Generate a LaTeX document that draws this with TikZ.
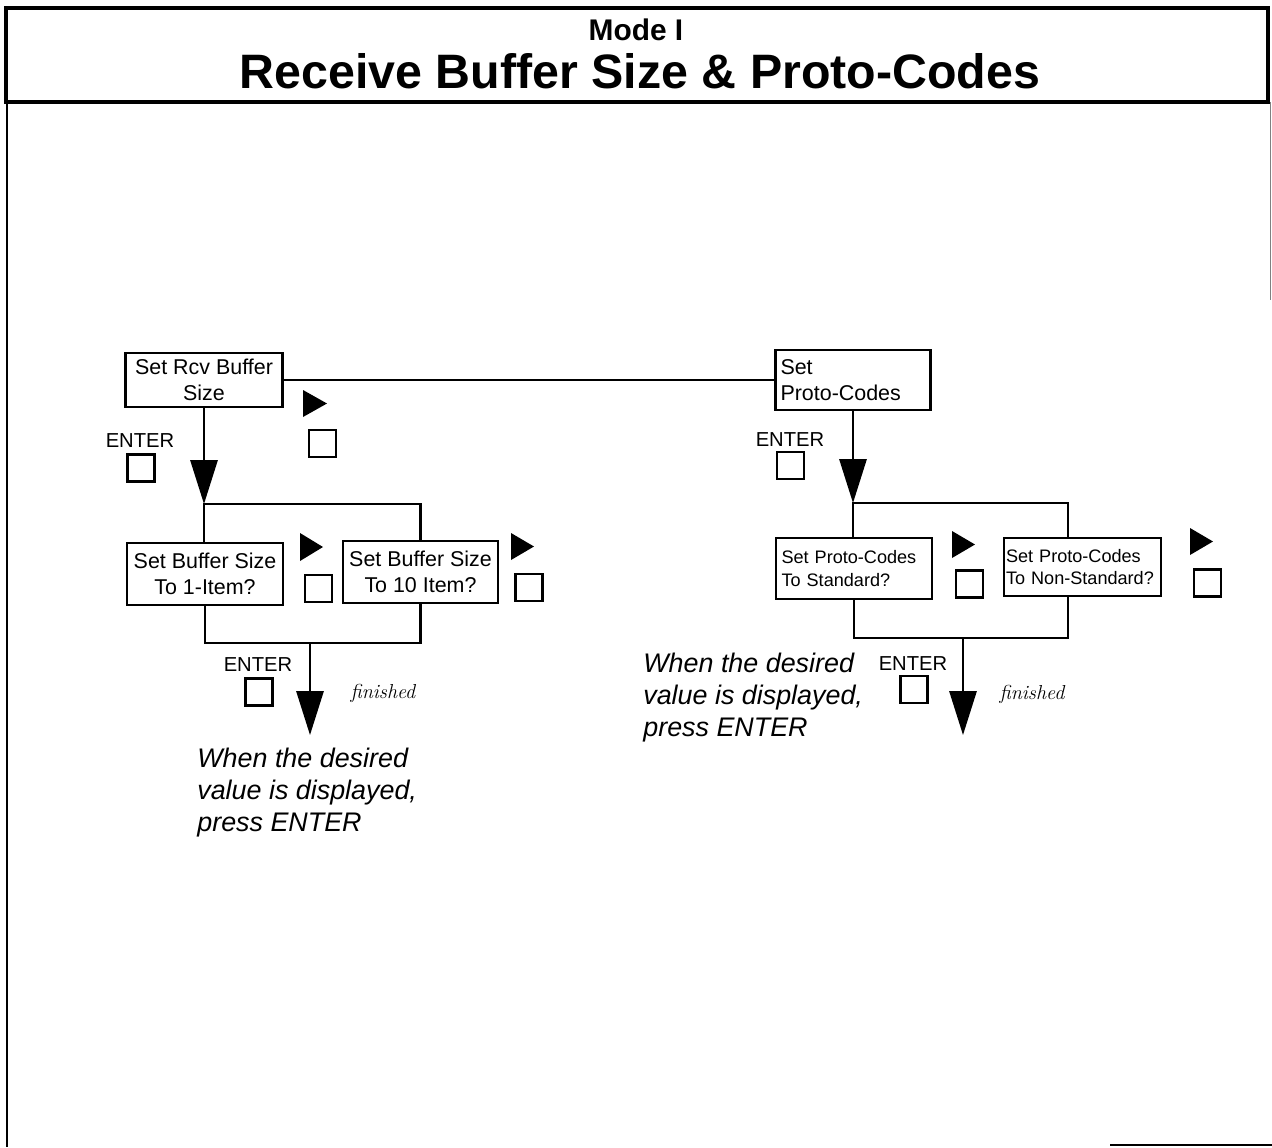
\documentclass[tikz,border=0pt]{standalone}
\usepackage{fontspec}
\newfontfamily\labelfont{Liberation Sans}
\usetikzlibrary{arrows.meta}
\tikzset{
  menubox/.style={draw, line width=1.4pt, inner sep=0pt, align=center,
    font=\labelfont\fontsize{12.2}{14.7}\selectfont},
  smallbox/.style={menubox, align=left,
    font=\labelfont\fontsize{10.3}{13}\selectfont},
  keybox/.style={draw, line width=1.3pt, minimum size=0.54cm, inner sep=0pt},
  flow/.style={line width=1.2pt},
  bigtip/.style={-{Triangle[width=15.5pt,length=25pt]}},
  enterlbl/.style={font=\labelfont\fontsize{11.5}{13}\selectfont, inner sep=0pt},
  donelbl/.style={font=\itshape\fontsize{11.5}{13}\selectfont, inner sep=0pt},
  note/.style={font=\labelfont\itshape\fontsize{15.3}{18.2}\selectfont,
    align=left, anchor=north west, inner sep=0pt}
}
\begin{document}
\begin{tikzpicture}[x=0.02cm,y=-0.02cm]
  \useasboundingbox (0,0) rectangle (1272,1147);
  % Frame and title
  \draw[line width=1.8pt] (6,8) rectangle (1268,102);
  \draw[line width=1.1pt] (7,102) -- (7,1147);
  \draw[line width=0.4pt, black!50] (1270,102) -- (1270,300);
  \draw[line width=1.1pt] (1110,1145) -- (1272,1145);
  \node[font=\labelfont\bfseries\fontsize{17}{20}\selectfont, anchor=base] (mode) at (636,40) {Mode I};
  \node[font=\labelfont\bfseries\fontsize{27.5}{32}\selectfont, anchor=base] (title) at (640,88) {Receive Buffer Size \& Proto-Codes};
  % Top level menu
  \node[menubox, minimum width=3.14cm, minimum height=1.08cm] (rcv) at (204,380) {Set Rcv Buffer\\Size};
  \node[menubox, align=left, text width=2.9cm, minimum width=3.1cm, minimum height=1.2cm] (proto) at (853,380) {Set\\Proto-Codes};
  \draw[flow] (rcv.east) -- (proto.west);
  \fill (303,390) -- ++(0,27) -- ++(24,-13.5) -- cycle;
  \node[keybox] (k0) at (322.5,443.5) {};
  % Buffer size branch
  \node[enterlbl] (e0) at (140,441) {ENTER};
  \node[keybox] (s0) at (141,468) {};
  \coordinate (fork1) at (204,504);
  \draw[flow,bigtip] (rcv.south) -- (fork1);
  \node[menubox, minimum width=3.12cm, minimum height=1.24cm] (one) at (205,574) {Set Buffer Size\\To 1-Item?};
  \node[menubox, minimum width=3.1cm, minimum height=1.24cm] (ten) at (420.5,572) {Set Buffer Size\\To 10 Item?};
  \draw[flow] (fork1 |- one.north) -- (fork1) -| (ten.north);
  \fill (300,533) -- ++(0,28) -- ++(23,-14) -- cycle;
  \node[keybox] (k1) at (318.5,588.5) {};
  \fill (511,533) -- ++(0,27) -- ++(23,-13.5) -- cycle;
  \node[keybox] (k2) at (529,587.5) {};
  \coordinate (join1) at (310,643);
  \coordinate (done1) at (310,735);
  \draw[flow] (one.south) |- (join1) -| (ten.south);
  \draw[flow,bigtip] (join1) -- (done1);
  \node[enterlbl] (e2) at (258,665) {ENTER};
  \node[keybox] (s2) at (259,692) {};
  \node[donelbl] (fin1) at (383,693) {finished};
  \node[note] (hint1) at (197,748) {When the desired\\value is displayed,\\press ENTER};
  % Proto-code branch
  \node[enterlbl] (e1) at (790,440) {ENTER};
  \node[keybox] (s1) at (790.5,465.5) {};
  \coordinate (fork2) at (853,503);
  \coordinate (fork2r) at (1068,503);
  \draw[flow,bigtip] (proto.south) -- (fork2);
  \node[smallbox, text width=2.9cm, minimum width=3.12cm, minimum height=1.22cm] (std) at (854,568.5) {Set Proto-Codes\\To Standard?};
  \node[smallbox, text width=3.06cm, minimum width=3.14cm, minimum height=1.16cm] (nonstd) at (1082.5,567) {Set Proto-Codes\\To Non-Standard?};
  \draw[flow] (fork2 |- std.north) -- (fork2) -- (fork2r) -- (fork2r |- nonstd.north);
  \fill (952,531) -- ++(0,27) -- ++(23,-13.5) -- cycle;
  \node[keybox] (k3) at (969.5,584) {};
  \fill (1190,528) -- ++(0,27) -- ++(23,-13.5) -- cycle;
  \node[keybox] (k4) at (1207.5,583) {};
  \coordinate (join2) at (963,638);
  \coordinate (done2) at (963,735);
  \draw[flow] (std.south) |- (join2) -- (join2 -| fork2r) -- (fork2r |- nonstd.south);
  \draw[flow,bigtip] (join2) -- (done2);
  \node[enterlbl] (e3) at (913,664) {ENTER};
  \node[keybox] (s3) at (914,689.5) {};
  \node[donelbl] (fin2) at (1032,694) {finished};
  \node[note] (hint2) at (643,653) {When the desired\\value is displayed,\\press ENTER};
\end{tikzpicture}
\end{document}
